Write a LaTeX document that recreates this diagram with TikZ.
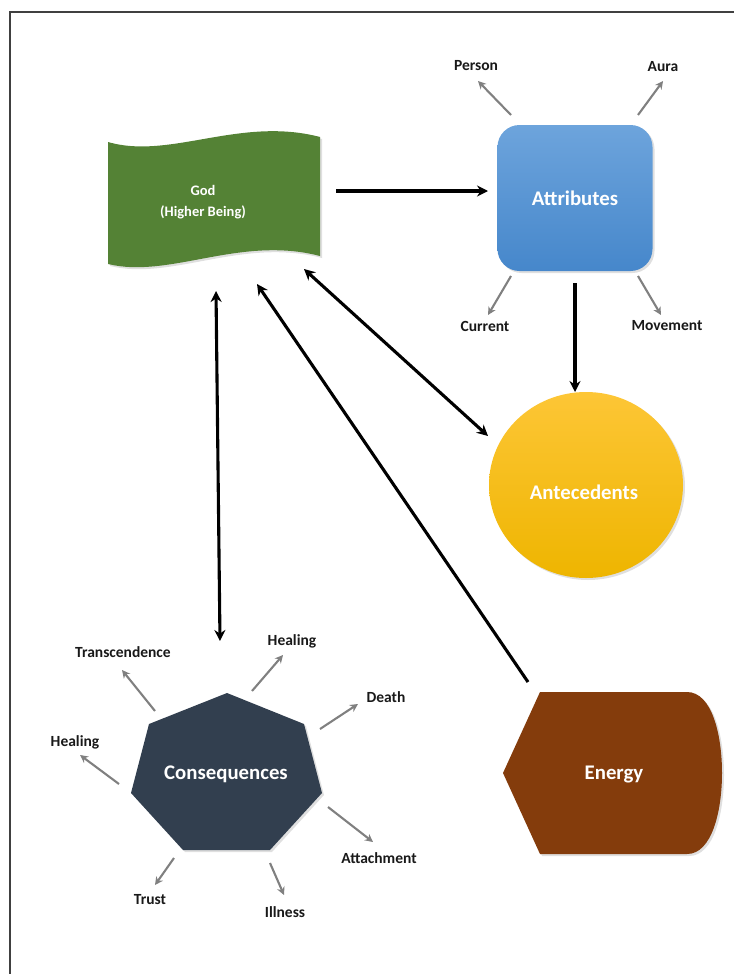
\documentclass[tikz,border=0pt]{standalone}
\usepackage{fontspec}
\setmainfont{Carlito}
\usetikzlibrary{arrows.meta,shapes.geometric,shadows}
\definecolor{godgreen}{HTML}{548235}
\definecolor{attrtop}{HTML}{6DA4DC}
\definecolor{attrbot}{HTML}{4687CB}
\definecolor{antetop}{HTML}{FDC636}
\definecolor{antebot}{HTML}{EEB500}
\definecolor{consfill}{HTML}{323F4F}
\definecolor{energyfill}{HTML}{843C0C}
\tikzstyle{big} = [text=white, font=\fontsize{20.8}{23}\selectfont\bfseries]
\tikzstyle{lbl} = [text=black!90, font=\fontsize{15.5}{17}\selectfont\bfseries, inner sep=0pt]
\tikzstyle{spoke} = [draw=black!50, line width=2.1pt, -{Stealth[length=8pt,width=8pt]}]
\tikzstyle{link} = [line width=3.1pt, -{Stealth[length=11pt,width=11pt]}]
\tikzstyle{both} = [{Stealth[length=11pt,width=11pt]}-{Stealth[length=11pt,width=11pt]}]
\tikzstyle{shade} = [drop shadow={shadow xshift=2pt,shadow yshift=-2pt,opacity=.25}]

\begin{document}
\begin{tikzpicture}[x=1pt,y=-1pt]
  \useasboundingbox (0,0) rectangle (734,974);
  \draw[line width=1.5pt,black!75] (10,974) -- (10,12) -- (734,12);

  \fill[godgreen,shade] (108,142) .. controls (170,160) and (240,116) .. (320,137)
     -- (320,256) .. controls (240,235) and (170,279) .. (108,264) -- cycle;
  \node[big,font=\fontsize{14.5}{20.5}\selectfont\bfseries,align=center] (G) at (203,202) {God\\(Higher Being)};

  \node[rectangle,rounded corners=22pt,minimum width=155pt,minimum height=146pt,
        top color=attrtop,bottom color=attrbot,shade,big] (At) at (575,198) {Attributes};

  \node[ellipse,minimum width=194pt,minimum height=186pt,
        top color=antetop,bottom color=antebot,shade] (An) at (586,485) {};
  \node[big] (AnT) at (584,492) {Antecedents};

  \fill[consfill,shade] (227,693) -- (304,724) -- (322,793) -- (270,850)
     -- (183,850) -- (131,793) -- (149,724) -- cycle;
  \node[big] (C) at (226,774) {Consequences};

  \fill[energyfill,shade] (540,692) -- (687,692) .. controls (712,692) and (722,735) .. (722,773)
     .. controls (722,811) and (712,854) .. (687,854) -- (540,854) -- (503,773) -- cycle;
  \node[big] (E) at (614,775) {Energy};

  \coordinate (g1) at (336,191);  \coordinate (a1) at (488,191);
  \coordinate (a2) at (575,283);  \coordinate (n1) at (575,392);
  \coordinate (g2) at (304,269);  \coordinate (n2) at (488,436);
  \coordinate (g3) at (216,291);  \coordinate (c1) at (220,641);
  \coordinate (e1) at (528,682);  \coordinate (g4) at (257,284);

  \draw[link] (g1) -- (a1);
  \draw[link] (a2) -- (n1);
  \draw[link,both] (g2) -- (n2);
  \draw[link,both] (g3) -- (c1);
  \draw[link] (e1) -- (g4);

  \foreach \sx/\sy/\ex/\ey/\lx/\ly/\t [count=\i] in {
      511/115/478/81/476/66/Person, 638/115/663/81/663/67/Aura,
      511/276/488/315/485/326/Current, 638/276/661/315/667/326/Movement,
      252/691/283/655/292/641/Healing, 320/729/358/704/386/697/Death,
      328/807/373/842/379/858/Attachment, 270/863/284/895/285/912/Illness,
      174/858/155/885/150/900/Trust, 119/784/80/755/75/742/Healing,
      155/711/122/670/123/652/Transcendence}{
    \coordinate (s\i) at (\sx,\sy);
    \coordinate (e\i) at (\ex,\ey);
    \node[lbl] (l\i) at (\lx,\ly) {\t};
    \draw[spoke] (s\i) -- (e\i);
  }
\end{tikzpicture}
\end{document}
